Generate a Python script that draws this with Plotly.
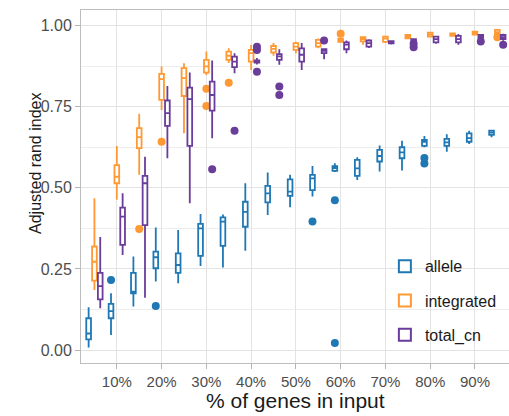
import plotly.graph_objects as go

pct = [5, 10, 15, 20, 25, 30, 35, 40, 45, 50, 55, 60, 65, 70, 75, 80, 85, 90, 95]
tick_vals = [10, 20, 30, 40, 50, 60, 70, 80, 90]
tick_text = ["10%", "20%", "30%", "40%", "50%", "60%", "70%", "80%", "90%"]
y_ticks = [0.0, 0.25, 0.5, 0.75, 1.0]

# allele
allele_lf = [0.008, 0.046, 0.134, 0.211, 0.206, 0.259, 0.254, 0.306, 0.416, 0.440, 0.473, 0.549, 0.524, 0.550, 0.553, 0.625, 0.611, 0.635, 0.656]
allele_q1 = [0.033, 0.098, 0.175, 0.252, 0.238, 0.290, 0.321, 0.380, 0.455, 0.475, 0.493, 0.552, 0.537, 0.581, 0.591, 0.629, 0.629, 0.642, 0.663]
allele_med = [0.051, 0.120, 0.180, 0.286, 0.262, 0.375, 0.396, 0.426, 0.483, 0.488, 0.529, 0.561, 0.560, 0.598, 0.609, 0.642, 0.640, 0.653, 0.670]
allele_q3 = [0.098, 0.142, 0.238, 0.303, 0.298, 0.389, 0.409, 0.457, 0.506, 0.526, 0.540, 0.567, 0.586, 0.617, 0.625, 0.648, 0.651, 0.668, 0.676]
allele_uf = [0.132, 0.175, 0.288, 0.378, 0.370, 0.419, 0.418, 0.514, 0.547, 0.540, 0.567, 0.576, 0.594, 0.630, 0.645, 0.660, 0.665, 0.676, 0.678]
allele_out = [[], [0.216], [], [0.136], [], [], [], [], [], [], [0.396], [0.462, 0.022], [], [], [], [0.592, 0.575], [], [], []]

# integrated
integ_lf = [0.185, 0.463, 0.540, 0.740, 0.668, 0.848, 0.885, 0.863, 0.907, 0.915, 0.930, 0.948, 0.941, 0.946, 0.958, 0.963, 0.966, 0.970, 0.972]
integ_q1 = [0.214, 0.514, 0.622, 0.771, 0.783, 0.855, 0.894, 0.889, 0.917, 0.925, 0.935, 0.950, 0.951, 0.950, 0.961, 0.966, 0.968, 0.972, 0.974]
integ_med = [0.272, 0.534, 0.656, 0.835, 0.838, 0.874, 0.907, 0.915, 0.928, 0.935, 0.946, 0.955, 0.958, 0.960, 0.966, 0.972, 0.972, 0.977, 0.980]
integ_q3 = [0.319, 0.570, 0.684, 0.851, 0.869, 0.894, 0.920, 0.925, 0.937, 0.946, 0.956, 0.960, 0.964, 0.966, 0.971, 0.978, 0.976, 0.981, 0.987]
integ_uf = [0.468, 0.629, 0.728, 0.874, 0.884, 0.920, 0.930, 0.940, 0.946, 0.950, 0.960, 0.962, 0.966, 0.968, 0.973, 0.980, 0.978, 0.983, 0.989]
integ_out = [[], [], [0.373], [0.642], [], [0.805, 0.752], [0.824], [], [], [], [], [0.975], [], [], [], [], [], [], [0.964]]

# total_cn
total_lf = [0.129, 0.293, 0.161, 0.591, 0.452, 0.653, 0.853, 0.880, 0.879, 0.863, 0.896, 0.915, 0.931, 0.942, 0.950, 0.944, 0.941, 0.958, 0.953]
total_q1 = [0.156, 0.324, 0.385, 0.691, 0.629, 0.738, 0.872, 0.886, 0.894, 0.889, 0.915, 0.927, 0.935, 0.945, 0.952, 0.948, 0.948, 0.962, 0.958]
total_med = [0.197, 0.411, 0.514, 0.730, 0.773, 0.786, 0.889, 0.889, 0.905, 0.910, 0.922, 0.941, 0.946, 0.950, 0.955, 0.958, 0.958, 0.966, 0.964]
total_q3 = [0.238, 0.439, 0.537, 0.769, 0.809, 0.827, 0.904, 0.893, 0.912, 0.930, 0.927, 0.948, 0.954, 0.952, 0.958, 0.966, 0.968, 0.971, 0.971]
total_uf = [0.348, 0.483, 0.596, 0.814, 0.855, 0.892, 0.915, 0.900, 0.927, 0.946, 0.930, 0.954, 0.958, 0.955, 0.960, 0.968, 0.974, 0.974, 0.975]
total_out = [[], [], [], [], [], [0.557], [0.676], [0.935, 0.925, 0.858], [0.812, 0.786], [], [0.954], [], [], [], [0.944, 0.933], [], [], [0.951], [0.941]]

series = [
    ("allele", "#1F78B4", allele_lf, allele_q1, allele_med, allele_q3, allele_uf, allele_out),
    ("integrated", "#FF9933", integ_lf, integ_q1, integ_med, integ_q3, integ_uf, integ_out),
    ("total_cn", "#6A3D9A", total_lf, total_q1, total_med, total_q3, total_uf, total_out),
]

fig = go.Figure()
for name, color, lf, q1, med, q3, uf, out in series:
    samples = [[m] + o for m, o in zip(med, out)]
    fig.add_trace(go.Box(
        name=name, x=pct, y=samples,
        lowerfence=lf, q1=q1, median=med, q3=q3, upperfence=uf,
        boxpoints="outliers", pointpos=0, jitter=0,
        marker=dict(color=color, size=8, line=dict(width=0)),
        line=dict(color=color, width=1.8),
        fillcolor="white", whiskerwidth=0,
        legendgroup=name, hoverinfo="skip",
    ))

fig.update_layout(
    width=509, height=416,
    margin=dict(l=81, r=0, t=10, b=53),
    paper_bgcolor="white", plot_bgcolor="white",
    boxmode="group", boxgap=0.222, boxgroupgap=0.19,
    font=dict(family="Liberation Sans, Arial, sans-serif", color="#1A1A1A"),
    showlegend=True,
    legend=dict(
        x=0.71, y=0.322, xanchor="left", yanchor="top",
        bgcolor="rgba(0,0,0,0)", font=dict(size=16, color="#1A1A1A"),
        tracegroupgap=10.5, itemsizing="constant",
    ),
    xaxis=dict(
        range=[2, 97.6], tickvals=tick_vals, ticktext=tick_text,
        showgrid=True, gridcolor="#E3E3E3", gridwidth=1, zeroline=False,
        showline=True, mirror=True, linecolor="#BDBDBD", linewidth=1,
        ticks="outside", ticklen=5, tickcolor="#B3B3B3",
        tickfont=dict(size=15, color="#4D4D4D"),
    ),
    yaxis=dict(
        range=[-0.040, 1.048], tickvals=y_ticks, tickformat=".2f",
        showgrid=True, gridcolor="#E3E3E3", gridwidth=1, zeroline=False,
        showline=True, mirror=True, linecolor="#BDBDBD", linewidth=1,
        ticks="outside", ticklen=5, tickcolor="#B3B3B3",
        tickfont=dict(size=16, color="#4D4D4D"),
        minor=dict(dtick=0.125, showgrid=True, gridcolor="#EDEDED", gridwidth=1, ticklen=0),
    ),
    annotations=[
        dict(text="% of genes in input", xref="paper", yref="paper",
             x=0.501, y=-0.105, xanchor="center", yanchor="middle",
             showarrow=False, font=dict(size=21, color="#1A1A1A")),
        dict(text="Adjusted rand index", xref="paper", yref="paper",
             x=-0.105, y=0.564, xanchor="center", yanchor="middle", textangle=-90,
             showarrow=False, font=dict(size=16, color="#1A1A1A")),
    ],
)

fig.write_html("out.html", config={"displayModeBar": False},
               post_script="document.body.style.margin='0';document.body.style.overflow='hidden';")
